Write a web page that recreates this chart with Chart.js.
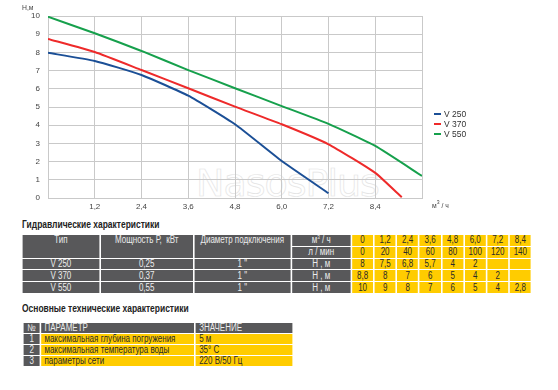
<!DOCTYPE html>
<html lang="ru">

<head>
    <meta charset="utf-8">
    <style>
        body { margin: 0; background: #fff; font-family: "Liberation Sans", Arial, sans-serif; color: #333; }
        #wrap { position: relative; width: 558px; height: 390px; overflow: hidden; }
        #chartBox { position: absolute; left: 0; top: 0; width: 558px; height: 215px; }
        .lbl { position: absolute; font-size: 8px; color: #444; white-space: nowrap; transform: scaleX(0.85); transform-origin: left top; }
        .legend { position: absolute; left: 434px; top: 109px; font-size: 8.5px; color: #333; }
        .legend div { height: 10px; line-height: 10px; white-space: nowrap; }
        .legend span { display: inline-block; width: 7px; height: 2px; vertical-align: middle; margin-right: 3px; position: relative; top: -1px; }
        .watermark { position: absolute; left: 196px; top: 161px; font-size: 38px; color: transparent; -webkit-text-stroke: 0.7px #e4e4e4; font-family: "DejaVu Sans", sans-serif; letter-spacing: -1px; }
        .title { position: absolute; left: 22px; font-size: 10px; font-weight: bold; color: #222; white-space: nowrap; transform: scaleX(0.845); transform-origin: left top; }
        table { position: absolute; border-collapse: separate; table-layout: fixed; font-size: 10px; transform: scaleX(0.8); transform-origin: left top; }
        td { padding: 0; line-height: 10px; overflow: hidden; white-space: nowrap; }
        .d { background: #58585a; color: #ececec; text-align: center; }
        .y { background: #ffcc00; color: #2a2a2a; text-align: center; }
        .l { text-align: left; padding-left: 4px; }
        #hyd { left: 21.3px; top: 234px; border-spacing: 2.5px 1.5px; width: 639.3px; }
        #hyd td { height: 10.8px; }
        #tech { left: 21.6px; top: 321.6px; border-spacing: 2.1px 1.7px; width: 340px; }
        #tech td { height: 9.9px; }
    </style>
</head>

<body>
    <div id="wrap">
        <div class="watermark">NasosPlus</div>
        <div id="chartBox"><canvas id="pumpChart" width="558" height="215"></canvas></div>
        <div class="lbl" style="left:22px; top:3px;">H,м</div>
        <div class="lbl" style="left:432px; top:199px;">м<sup style="font-size:6px">3</sup> / ч</div>
        <div class="legend" id="legend"></div>

        <div class="title" style="top:219px;">Гидравлические характеристики</div>
        <table id="hyd"></table>

        <div class="title" style="top:303px;">Основные технические характеристики</div>
        <table id="tech"></table>
    </div>

    <script src="https://cdn.jsdelivr.net/npm/chart.js"></script>
    <script>
        // flow axis (m3/h) and curve points
        const flowTicks = [0, 1.2, 2.4, 3.6, 4.8, 6.0, 7.2, 8.4, 9.6];
        const headTicks = [0, 1, 2, 3, 4, 5, 6, 7, 8, 9, 10];

        const seriesNames = ['V 250', 'V 370', 'V 550'];
        const seriesColors = ['#1b4f96', '#ee2a2a', '#16a04c'];

        const v250Flow = [0, 1.2, 2.4, 3.6, 4.8, 6.0, 7.2];
        const v250Head = [7.98, 7.53, 6.76, 5.62, 4.05, 2.03, 0.26];
        const v370Flow = [0, 1.2, 2.4, 3.6, 4.8, 6.0, 7.2, 8.4, 9.08];
        const v370Head = [8.74, 8.02, 7.03, 6.03, 5.02, 4.05, 2.95, 1.38, 0.04];
        const v550Flow = [0, 1.2, 2.4, 3.6, 4.8, 6.0, 7.2, 8.4, 9.6];
        const v550Head = [9.96, 9.05, 8.08, 7.03, 6.03, 5.05, 4.07, 2.86, 1.21];

        // table data
        const tableFlowM3 = ['0', '1,2', '2,4', '3,6', '4,8', '6,0', '7,2', '8,4'];
        const tableFlowLmin = ['0', '20', '40', '60', '80', '100', '120', '140'];
        const pumpTypes = ['V 250', 'V 370', 'V 550'];
        const pumpPower = ['0,25', '0,37', '0,55'];
        const pumpPipe = ['1 "', '1 "', '1 "'];
        const v250Table = ['8', '7,5', '6,8', '5,7', '4', '2', '', ''];
        const v370Table = ['8,8', '8', '7', '6', '5', '4', '2', ''];
        const v550Table = ['10', '9', '8', '7', '6', '5', '4', '2,8'];

        const techNums = ['1', '2', '3'];
        const techParams = ['максимальная глубина погружения', 'максимальная температура воды', 'параметры сети'];
        const techValues = ['5 м', '35° С', '220 В/50 Гц'];

        function toPoints(xs, ys) {
            return xs.map((x, i) => ({ x: x, y: ys[i] }));
        }

        const curves = [toPoints(v250Flow, v250Head), toPoints(v370Flow, v370Head), toPoints(v550Flow, v550Head)];
        const tickFont = { size: 8, family: '"Liberation Sans", Arial, sans-serif' };

        const ctx = document.getElementById('pumpChart');
        new Chart(ctx, {
            type: 'line',
            data: {
                datasets: curves.map((pts, i) => ({
                    label: seriesNames[i],
                    data: pts,
                    borderColor: seriesColors[i],
                    borderWidth: 2,
                    pointRadius: 0,
                    tension: 0.15,
                    fill: false
                }))
            },
            options: {
                responsive: false,
                animation: false,
                devicePixelRatio: 1,
                layout: { padding: { top: 16, right: 136, left: 0, bottom: 0 } },
                plugins: { legend: { display: false }, tooltip: { enabled: false } },
                scales: {
                    x: {
                        type: 'linear',
                        min: 0,
                        max: 9.6,
                        afterBuildTicks: s => { s.ticks = flowTicks.map(v => ({ value: v })); },
                        afterFit: s => { s.height = 17; },
                        grid: { color: '#c9c9c9', lineWidth: 1, drawTicks: false },
                        border: { color: '#c9c9c9' },
                        ticks: {
                            padding: 4,
                            color: '#444',
                            font: tickFont,
                            maxRotation: 0,
                            autoSkip: false,
                            callback: v => (v === 0 || v > 9.5) ? '' : v.toFixed(1).replace('.', ',')
                        }
                    },
                    y: {
                        min: 0,
                        max: 10,
                        afterBuildTicks: s => { s.ticks = headTicks.map(v => ({ value: v })); },
                        afterFit: s => { s.width = 48; },
                        grid: { color: '#c9c9c9', lineWidth: 1, drawTicks: false },
                        border: { color: '#c9c9c9' },
                        ticks: { padding: 8, color: '#444', font: tickFont }
                    }
                }
            }
        });

        // legend
        const legend = document.getElementById('legend');
        seriesNames.forEach((n, i) => {
            const row = document.createElement('div');
            row.innerHTML = '<span style="background:' + seriesColors[i] + '"></span>' + n;
            legend.appendChild(row);
        });

        function cell(cls, text, extra) {
            return '<td class="' + cls + '"' + (extra || '') + '>' + text + '</td>';
        }

        // hydraulic table (widths are pre-scale, the table is squeezed to 0.8)
        const colW = [94.6, 113.75, 118.75, 72.5].concat(tableFlowM3.map(() => 25.9));
        let h = '<colgroup>' + colW.map(w => '<col style="width:' + w + 'px">').join('') + '</colgroup>';
        h += '<tr>' + cell('d', 'Тип', ' rowspan="2" style="vertical-align:top"') +
            cell('d', 'Мощность Р,&nbsp; кВт', ' rowspan="2" style="vertical-align:top"') +
            cell('d', 'Диаметр подключения', ' rowspan="2" style="vertical-align:top"') +
            cell('d', 'м<sup style="font-size:6px;line-height:0">3</sup> / ч') +
            tableFlowM3.map(v => cell('y', v)).join('') + '</tr>';
        h += '<tr>' + cell('d', 'л / мин') + tableFlowLmin.map(v => cell('y', v)).join('') + '</tr>';
        [v250Table, v370Table, v550Table].forEach((vals, i) => {
            h += '<tr>' + cell('d', pumpTypes[i]) + cell('d', pumpPower[i]) + cell('d', pumpPipe[i]) +
                cell('d', 'Н , м') + vals.map(v => cell('y', v)).join('') + '</tr>';
        });
        document.getElementById('hyd').innerHTML = h;

        // technical table
        let t = '<colgroup><col style="width:20px"><col style="width:191.25px"><col style="width:120.4px"></colgroup>';
        t += '<tr>' + cell('d', '№') + cell('d l', 'ПАРАМЕТР') + cell('d l', 'ЗНАЧЕНИЕ') + '</tr>';
        techNums.forEach((n, i) => {
            t += '<tr>' + cell('d', n) + cell('y l', techParams[i]) + cell('y l', techValues[i]) + '</tr>';
        });
        document.getElementById('tech').innerHTML = t;
    </script>
</body>

</html>
